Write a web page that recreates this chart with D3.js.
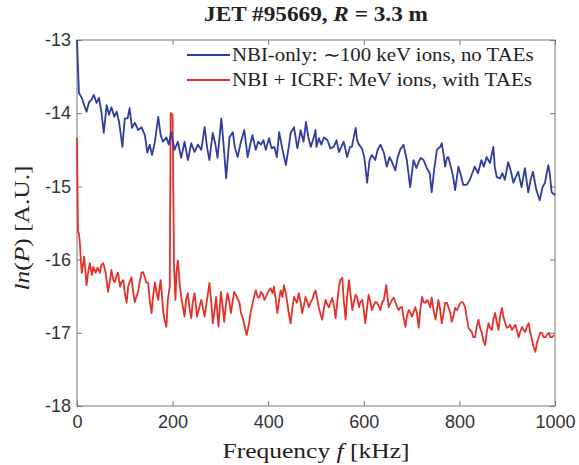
<!DOCTYPE html>
<html>
<head>
<meta charset="UTF-8">
<title>JET #95669 spectrum</title>
<script src="https://d3js.org/d3.v7.min.js"></script>
<style>
  body { margin: 0; background: #fff; }
  .tick text { font-family: "Liberation Sans", Arial, sans-serif; font-size: 18px; fill: #333; }
  .serif { font-family: "Liberation Serif", "Times New Roman", serif; fill: #222; }
</style>
</head>
<body>
<div id="vis"></div>
<script>
// spectrum: frequency (kHz) and ln(P)
const blueF = [0,4,10,15,20,25,30,35,41,46,51,56,62,67,72,78,83,88,95,100,106,110,115,121,128,135,142,147,152,157,163,170,175,180,187,192,197,204,211,218,225,232,239,246,253,260,267,272,277,284,289,294,302,307,312,319,326,330,336,343,350,357,363,367,374,379,385,390,395,402,407,413,418,423,430,437,443,447,454,461,468,474,479,484,489,495,499,501,506,511,517,524,530,537,543,548,553,558,565,571,575,583,586,590,596,601,607,612,617,624,629,635,642,648,654,659,666,671,676,683,690,697,704,710,714,719,725,732,738,742,747,753,756,760,763,767,770,774,777,781,784,788,791,795,798,803,808,815,822,828,832,839,846,851,857,864,871,874,878,885,890,895,902,908,913,918,923,930,937,944,949,954,961,968,974,979,986,989,993,1000];
const blueLn = [-13.00,-13.72,-13.79,-13.89,-13.98,-13.85,-13.82,-13.75,-13.86,-13.79,-13.98,-14.27,-13.89,-14.02,-13.92,-14.05,-13.98,-14.12,-14.46,-14.07,-14.07,-13.93,-14.20,-14.13,-14.23,-14.19,-14.30,-14.54,-14.43,-14.57,-14.39,-14.05,-14.30,-14.39,-14.33,-14.43,-14.26,-14.50,-14.39,-14.61,-14.39,-14.64,-14.41,-14.53,-14.43,-14.50,-14.19,-14.46,-14.64,-14.27,-14.41,-14.61,-14.07,-14.46,-14.89,-14.33,-14.26,-14.46,-14.60,-14.39,-14.23,-14.60,-14.41,-14.30,-14.50,-14.39,-14.43,-14.37,-14.50,-14.34,-14.48,-14.46,-14.60,-14.26,-14.50,-14.71,-14.46,-14.27,-14.19,-14.48,-14.23,-14.39,-14.12,-14.33,-14.46,-14.34,-14.23,-14.46,-14.34,-14.43,-14.33,-14.37,-14.48,-14.46,-14.37,-14.53,-14.46,-14.39,-14.60,-14.46,-14.46,-14.20,-14.37,-14.43,-14.48,-14.60,-14.95,-14.64,-14.57,-14.64,-14.50,-14.43,-14.54,-14.73,-14.60,-14.67,-14.78,-14.60,-14.50,-14.43,-14.64,-15.01,-14.64,-14.75,-14.68,-14.61,-14.64,-14.75,-14.82,-15.08,-14.78,-14.50,-14.48,-14.46,-14.41,-14.57,-14.73,-14.61,-14.60,-14.71,-14.78,-14.91,-15.05,-14.87,-14.73,-14.84,-14.98,-14.98,-14.91,-14.80,-14.73,-14.82,-14.64,-14.73,-14.60,-14.68,-14.46,-14.73,-14.87,-14.89,-14.82,-14.91,-14.67,-14.80,-14.95,-14.87,-14.80,-15.01,-14.75,-15.08,-14.91,-14.80,-15.05,-15.19,-15.01,-14.95,-14.71,-14.82,-15.08,-15.12];

const redF = [0,2,4,6,8,10,15,20,24,27,31,34,39,43,48,51,55,60,65,69,72,76,79,83,86,90,93,97,100,104,107,110,114,117,121,124,128,131,135,138,142,145,149,152,156,159,163,166,170,173,175,178,180,183,187,190,194,196,200,203,206,208,211,215,219,225,228,232,235,239,242,246,251,253,260,267,272,277,281,284,288,291,296,301,305,308,312,315,319,322,326,329,335,340,343,347,351,355,360,363,369,374,378,381,385,388,392,395,400,405,409,412,416,419,423,426,430,433,437,440,443,447,450,454,460,464,468,471,475,478,482,485,489,492,496,499,503,506,510,513,517,520,524,527,531,534,538,541,545,548,551,555,558,562,565,569,572,576,579,583,586,590,593,597,600,603,607,610,614,617,621,624,628,635,638,642,647,652,656,659,663,666,670,673,677,680,683,687,690,694,697,701,704,708,711,715,718,722,725,729,732,735,739,742,746,750,753,756,760,763,767,770,774,777,781,784,788,791,795,798,802,805,808,812,815,819,822,826,829,833,836,840,843,847,850,854,857,861,864,868,871,875,878,882,885,889,892,896,899,903,906,910,913,917,920,924,927,931,934,938,941,945,948,952,955,959,962,966,969,973,976,980,983,987,990,994,998];
const redLn = [-14.34,-15.62,-15.64,-15.77,-16.01,-16.18,-15.96,-16.35,-16.14,-16.05,-16.21,-16.10,-16.18,-16.11,-16.18,-16.07,-16.05,-16.18,-16.44,-16.28,-16.14,-16.28,-16.31,-16.21,-16.18,-16.37,-16.31,-16.28,-16.46,-16.59,-16.37,-16.31,-16.24,-16.42,-16.58,-16.51,-16.44,-16.31,-16.18,-16.17,-16.24,-16.31,-16.32,-16.55,-16.73,-16.51,-16.31,-16.44,-16.55,-16.37,-16.28,-16.51,-16.69,-16.82,-16.92,-16.55,-16.37,-14.00,-14.02,-16.10,-16.55,-16.18,-16.01,-16.35,-16.55,-16.78,-16.55,-16.46,-16.65,-16.80,-16.59,-16.46,-16.78,-16.73,-16.55,-16.78,-16.55,-16.32,-16.59,-16.87,-16.69,-16.51,-16.92,-16.44,-16.65,-16.85,-16.59,-16.46,-16.59,-16.73,-16.55,-16.44,-16.52,-16.59,-16.73,-16.80,-16.92,-17.03,-16.87,-16.73,-16.55,-16.42,-16.51,-16.52,-16.44,-16.46,-16.55,-16.51,-16.44,-16.39,-16.46,-16.37,-16.55,-16.73,-16.55,-16.42,-16.51,-16.35,-16.46,-16.59,-16.73,-16.87,-16.69,-16.51,-16.59,-16.46,-16.59,-16.73,-16.62,-16.51,-16.58,-16.65,-16.58,-16.55,-16.46,-16.42,-16.55,-16.66,-16.76,-16.82,-16.65,-16.55,-16.62,-16.65,-16.58,-16.52,-16.65,-16.80,-16.55,-16.37,-16.28,-16.25,-16.55,-16.82,-16.51,-16.28,-16.46,-16.69,-16.59,-16.48,-16.52,-16.65,-16.58,-16.55,-16.69,-16.87,-16.65,-16.48,-16.58,-16.69,-16.62,-16.58,-16.59,-16.69,-16.59,-16.55,-16.35,-16.65,-16.59,-16.55,-16.52,-16.58,-16.65,-16.69,-16.65,-16.65,-16.78,-16.92,-16.78,-16.69,-16.72,-16.78,-16.72,-16.65,-16.73,-16.93,-16.69,-16.51,-16.58,-16.59,-16.55,-16.58,-16.65,-16.52,-16.69,-16.82,-16.69,-16.55,-16.69,-16.87,-16.73,-16.59,-16.59,-16.65,-16.73,-16.85,-16.76,-16.66,-16.69,-16.65,-16.59,-16.58,-16.59,-16.65,-16.78,-16.93,-16.96,-16.99,-17.06,-17.06,-16.92,-16.82,-16.93,-17.00,-17.10,-17.17,-17.00,-16.87,-16.93,-16.96,-16.82,-16.73,-16.85,-16.96,-16.78,-16.66,-16.78,-16.87,-16.93,-16.92,-16.89,-16.96,-16.93,-16.89,-16.96,-17.06,-16.99,-16.92,-16.96,-16.99,-16.92,-16.87,-16.99,-17.10,-17.19,-17.26,-17.14,-17.06,-17.00,-17.00,-17.06,-17.06,-17.03,-17.00,-17.06,-17.06,-17.03];

const xTicks = [0, 200, 400, 600, 800, 1000];
const yTicks = [-13, -14, -15, -16, -17, -18];
const legendLabels = ["NBI-only: \u223C100 keV ions, no TAEs", "NBI + ICRF: MeV ions, with TAEs"];
const seriesColors = ["#2f3e9e", "#e5312b"];

const width = 579, height = 465;
const margin = {top: 40, right: 24, bottom: 59, left: 77};
const w = width - margin.left - margin.right;
const h = height - margin.top - margin.bottom;

const svg = d3.select("#vis").append("svg")
    .attr("width", width)
    .attr("height", height)
    .style("background", "#fff");

const g = svg.append("g").attr("transform", `translate(${margin.left},${margin.top})`);

const x = d3.scaleLinear().domain([0, 1000]).range([0, w]);
const y = d3.scaleLinear().domain([-18, -13]).range([h, 0]);

// axes, ticks pointing inward; plain hyphen for negatives like the original
function styleAxis(sel) {
    sel.select(".domain").remove();
    sel.selectAll(".tick line").attr("stroke", "#777");
}
g.append("g").attr("transform", `translate(0,${h})`)
    .call(d3.axisBottom(x).tickValues(xTicks).tickSize(-5).tickPadding(9).tickFormat(d => String(d)))
    .call(styleAxis);
g.append("g")
    .call(d3.axisTop(x).tickValues(xTicks).tickSize(-5).tickFormat(""))
    .call(styleAxis);
g.append("g")
    .call(d3.axisLeft(y).tickValues(yTicks).tickSize(-5).tickPadding(6).tickFormat(d => String(d)))
    .call(styleAxis);
g.append("g").attr("transform", `translate(${w},0)`)
    .call(d3.axisRight(y).tickValues(yTicks).tickSize(-5).tickFormat(""))
    .call(styleAxis);
g.selectAll(".tick text").attr("fill", "#333");

g.append("rect")
    .attr("width", w).attr("height", h)
    .attr("fill", "none").attr("stroke", "#777").attr("stroke-width", 1);

const line = d3.line().x(d => x(d[0])).y(d => y(d[1]));

g.append("path")
    .datum(redF.map((f, i) => [f, redLn[i]]))
    .attr("fill", "none").attr("stroke", seriesColors[1]).attr("stroke-width", 1.8)
    .attr("stroke-linejoin", "round")
    .attr("d", line);
g.append("path")
    .datum(blueF.map((f, i) => [f, blueLn[i]]))
    .attr("fill", "none").attr("stroke", seriesColors[0]).attr("stroke-width", 1.8)
    .attr("stroke-linejoin", "round")
    .attr("d", line);

// the original uses a wider (LaTeX) font: stretch text horizontally to its width
function stretchTo(sel, target, base) {
    const len = sel.node().getComputedTextLength();
    sel.attr("transform", `${base} scale(${target / len},1)`);
}

// legend
const leg = svg.append("g").attr("transform", "translate(187,55)");
legendLabels.forEach((t, i) => {
    leg.append("line")
        .attr("x1", 0).attr("x2", 43).attr("y1", i * 25).attr("y2", i * 25)
        .attr("stroke", seriesColors[i]).attr("stroke-width", 2);
    const lt = leg.append("text").attr("class", "serif")
        .attr("font-size", 18)
        .text(t);
    stretchTo(lt, i === 0 ? 302 : 300, `translate(45,${i * 25 + 6})`);
});

// title
const title = svg.append("text").attr("class", "serif")
    .attr("text-anchor", "middle")
    .attr("font-size", 20).attr("font-weight", "bold");
title.append("tspan").text("JET #95669, ");
title.append("tspan").attr("font-style", "italic").text("R");
title.append("tspan").text(" = 3.3 m");
stretchTo(title, 224, "translate(316,21)");

// x label
const xl = svg.append("text").attr("class", "serif")
    .attr("text-anchor", "middle")
    .attr("font-size", 20);
xl.append("tspan").text("Frequency ");
xl.append("tspan").attr("font-style", "italic").text("f");
xl.append("tspan").text(" [kHz]");
stretchTo(xl, 187, "translate(316,458)");

// y label
const yl = svg.append("text").attr("class", "serif")
    .attr("text-anchor", "middle")
    .attr("font-size", 20);
yl.append("tspan").attr("font-style", "italic").text("ln");
yl.append("tspan").text("(");
yl.append("tspan").attr("font-style", "italic").text("P");
yl.append("tspan").text(") [A.U.]");
stretchTo(yl, 125, "translate(29,228) rotate(-90)");
</script>
</body>
</html>
